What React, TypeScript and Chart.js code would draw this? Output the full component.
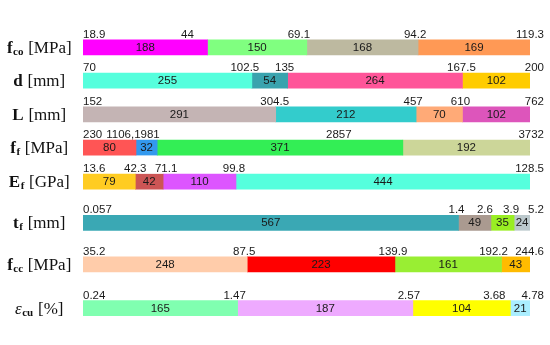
import React, { useEffect, useRef } from 'react';
import { Chart, registerables } from 'chart.js';

Chart.register(...registerables);

// ---- Data ----
const ROW_MAIN = ['f', 'd', 'L', 'f', 'E', 't', 'f', 'ε'];
const ROW_SUB = ['co', '', '', 'f', 'f', 'f', 'cc', 'cu'];
const ROW_UNIT = ['[MPa]', '[mm]', '[mm]', '[MPa]', '[GPa]', '[mm]', '[MPa]', '[%]'];

const COUNTS_FCO = [188, 150, 168, 169];
const COUNTS_D = [255, 54, 264, 102];
const COUNTS_L = [291, 212, 70, 102];
const COUNTS_FF = [80, 32, 371, 192];
const COUNTS_EF = [79, 42, 110, 444];
const COUNTS_TF = [567, 49, 35, 24];
const COUNTS_FCC = [248, 223, 161, 43];
const COUNTS_ECU = [165, 187, 104, 21];

const TICKS_FCO = ['18.9', '44', '69.1', '94.2', '119.3'];
const TICKS_D = ['70', '102.5', '135', '167.5', '200'];
const TICKS_L = ['152', '304.5', '457', '610', '762'];
const TICKS_FF = ['230', '1106,1981', '', '2857', '3732'];
const TICKS_EF = ['13.6', '42.3', '71.1', '99.8', '128.5'];
const TICKS_TF = ['0.057', '1.4', '2.6', '3.9', '5.2'];
const TICKS_FCC = ['35.2', '87.5', '139.9', '192.2', '244.6'];
const TICKS_ECU = ['0.24', '1.47', '2.57', '3.68', '4.78'];

const COUNTS = [COUNTS_FCO, COUNTS_D, COUNTS_L, COUNTS_FF, COUNTS_EF, COUNTS_TF, COUNTS_FCC, COUNTS_ECU];
const TICKS = [TICKS_FCO, TICKS_D, TICKS_L, TICKS_FF, TICKS_EF, TICKS_TF, TICKS_FCC, TICKS_ECU];

// ---- Styles / layout ----
const COLORS = [
  ['#FF00FF', '#80FF80', '#BDB9A0', '#FF9955'],
  ['#55FFDD', '#3AA3AE', '#FF5599', '#FFCC00'],
  ['#C4B4B4', '#33CCCC', '#FFAA77', '#DD55BB'],
  ['#FF5555', '#3399EE', '#33EE55', '#CCD699'],
  ['#FFCC22', '#CC5555', '#DD55FF', '#55FFDD'],
  ['#3AA8B4', '#AA9A90', '#99EE22', '#BBC8CC'],
  ['#FFCCAA', '#FF0000', '#99EE33', '#FFBB00'],
  ['#80FFB0', '#EEAAFF', '#FFFF00', '#AAEEFF'],
];
const ROW_Y = [29.5, 67.5, 106, 144, 183, 230, 277.5, 327.5];
const TICK_NUDGE = [
  [0, -20, -8, -3, 0],
  [0, -7, -3, -1, 0],
  [0, -1, -3, -2, 0],
  [0, -3, 0, -64, 0],
  [0, 0, 3, -2, 0],
  [0, -2, -6, -3, 0],
  [0, -3, -2, -8, 0],
  [0, -3, -4, -16, 0],
];

const SANS = '"Liberation Sans", Arial, sans-serif';
const SERIF = '"Liberation Serif", "Times New Roman", serif';

const labelPlugin = {
  id: 'rowLabels',
  afterDatasetsDraw(chart: any) {
    const ctx = chart.ctx as CanvasRenderingContext2D;
    ctx.save();
    for (let i = 0; i < COUNTS.length; i++) {
      const els = [0, 1, 2, 3].map((j) => chart.getDatasetMeta(j).data[i]);
      const cy = els[0].y;
      // counts
      ctx.font = `11.5px ${SANS}`;
      ctx.fillStyle = '#1a1a1a';
      ctx.textAlign = 'center';
      ctx.textBaseline = 'middle';
      els.forEach((el: any, j: number) => {
        ctx.fillText(String(COUNTS[i][j]), (el.base + el.x) / 2, cy + 0.5);
      });
      // boundary values
      ctx.textBaseline = 'alphabetic';
      const by = cy - 7.5 - 2;
      const ticks = TICKS[i];
      for (let k = 0; k < 5; k++) {
        const t = ticks[k];
        if (!t) continue;
        let x: number;
        if (k === 0) {
          ctx.textAlign = 'left';
          x = els[0].base;
        } else if (k === 4) {
          ctx.textAlign = 'right';
          x = els[3].x + 14;
        } else {
          ctx.textAlign = 'center';
          x = els[k - 1].x;
        }
        ctx.fillText(t, x + TICK_NUDGE[i][k], by);
      }
      // row label
      const main = ROW_MAIN[i];
      const sub = ROW_SUB[i];
      const unit = ' ' + ROW_UNIT[i];
      const mainFont = main === 'ε' ? `italic 17px ${SERIF}` : `bold 17px ${SERIF}`;
      const subFont = `bold 11px ${SERIF}`;
      const unitFont = `17px ${SERIF}`;
      ctx.font = mainFont;
      const wm = ctx.measureText(main).width;
      ctx.font = subFont;
      const ws = sub ? ctx.measureText(sub).width + 0.5 : 0;
      ctx.font = unitFont;
      const wu = ctx.measureText(unit).width;
      const total = wm + ws + wu;
      let x0 = 39 - total / 2;
      const base = cy + 5.5;
      ctx.textAlign = 'left';
      ctx.fillStyle = '#111';
      ctx.font = mainFont;
      ctx.fillText(main, x0, base);
      x0 += wm + 0.5;
      if (sub) {
        ctx.font = subFont;
        ctx.fillText(sub, x0, base + 2);
        x0 += ws;
      }
      ctx.font = unitFont;
      ctx.fillText(unit, x0, base);
    }
    ctx.restore();
  },
};

export default function App() {
  const ref = useRef<HTMLCanvasElement | null>(null);
  useEffect(() => {
    if (!ref.current) return;
    const datasets = [0, 1, 2, 3].map((j) => ({
      data: COUNTS.map((row, i) => {
        const sum = row.reduce((a, b) => a + b, 0);
        return { x: (row[j] / sum) * 100, y: ROW_Y[i] };
      }),
      backgroundColor: COLORS.map((c) => c[j]),
      borderWidth: 0,
      barThickness: 15,
    }));
    const chart = new Chart(ref.current, {
      type: 'bar',
      data: { datasets },
      options: {
        indexAxis: 'y',
        responsive: false,
        animation: false,
        layout: { padding: { left: 83, right: 20, top: 0, bottom: 0 } },
        plugins: { legend: { display: false }, tooltip: { enabled: false } },
        scales: {
          x: { type: 'linear', stacked: true, min: 0, max: 100, display: false },
          y: { type: 'linear', stacked: true, min: 0, max: 345, reverse: true, display: false },
        },
      },
      plugins: [labelPlugin],
    } as any);
    return () => chart.destroy();
  }, []);
  return (
    <div style={{ position: 'absolute', left: 0, top: 0, width: 550, height: 345, background: '#fff' }}>
      <canvas ref={ref} width={550} height={345} style={{ width: 550, height: 345, display: 'block' }} />
    </div>
  );
}
